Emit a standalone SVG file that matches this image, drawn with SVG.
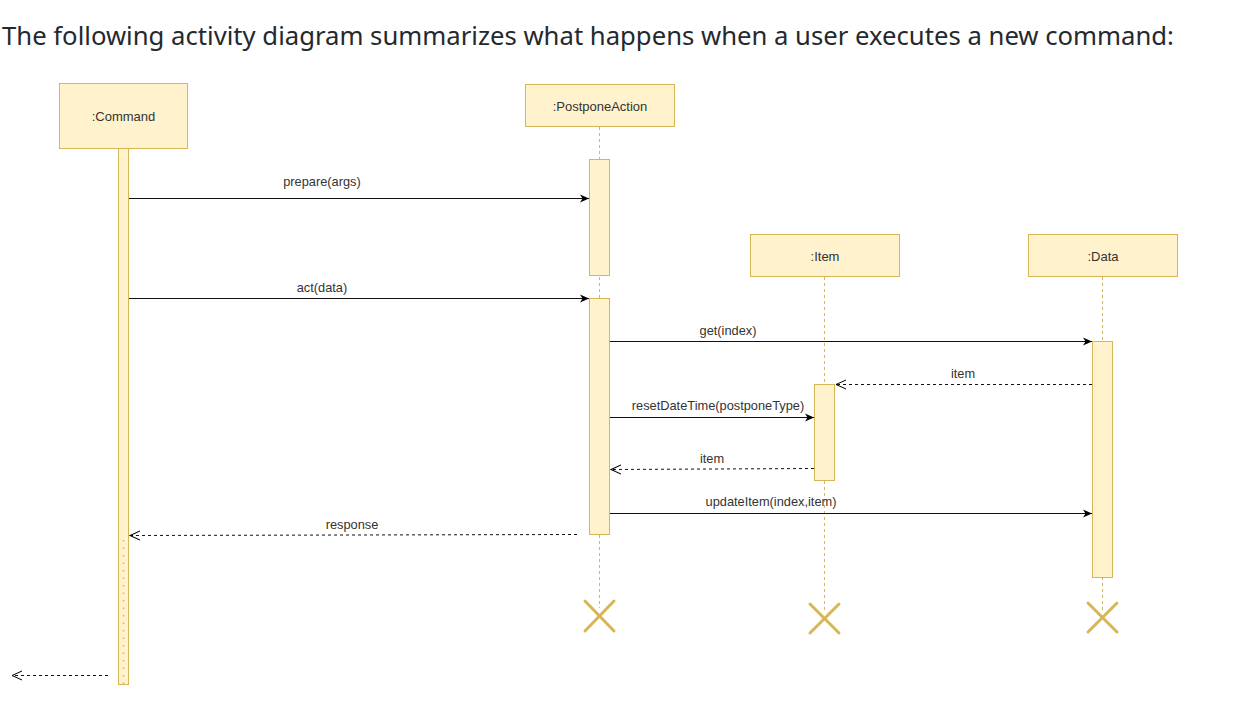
<svg xmlns="http://www.w3.org/2000/svg" width="1244" height="702" viewBox="0 0 1244 702">
<style>
.box{fill:#fff2cc;stroke:#d6b656;stroke-width:1}
.act{fill:#fff2cc;stroke:#d6b656;stroke-width:1}
.life{stroke:#d6b656;stroke-width:1;stroke-dasharray:3 3;fill:none}
.x{stroke:#d6b656;stroke-width:3;stroke-linecap:round}
.nt{font-family:"Liberation Sans",Arial,sans-serif;font-size:13px;fill:#333;text-anchor:middle}
.lb{font-family:"Liberation Sans",Arial,sans-serif;font-size:12.8px;fill:#333;text-anchor:middle}
.msg{stroke:#111;stroke-width:1;fill:none}
.ret{stroke:#111;stroke-width:1;fill:none;stroke-dasharray:3 3}
.title{font-family:"Noto Sans","Open Sans",sans-serif;font-size:26px;fill:#24292e}
</style>
<defs>
<marker id="solid" markerWidth="10" markerHeight="10" refX="9" refY="5" orient="auto" markerUnits="userSpaceOnUse">
<path d="M0,1 L9,5 L0,9 L2.5,5 Z" fill="#000"/>
</marker>
<marker id="open" markerWidth="12" markerHeight="12" refX="10" refY="6" orient="auto" markerUnits="userSpaceOnUse">
<path d="M0,1.5 L10,6 L0,10.5" fill="none" stroke="#000" stroke-width="1"/>
</marker>
</defs>
<rect width="1244" height="702" fill="#fff"/>
<text class="title" x="2" y="45" textLength="1172" lengthAdjust="spacingAndGlyphs">The following activity diagram summarizes what happens when a user executes a new command:</text>

<g id="command">
<rect class="box" x="59.5" y="83.5" width="128" height="65"/>
<text class="nt" x="123.5" y="120.5">:Command</text>
<rect class="act" x="118.5" y="148.5" width="10" height="536"/>
<line x1="123.5" y1="540" x2="123.5" y2="684" stroke="#d6b656" stroke-width="1.5" stroke-dasharray="1.5 6"/>
</g>

<g id="postponeaction">
<rect class="box" x="525.5" y="84.5" width="149" height="42"/>
<text class="nt" x="600" y="110.5">:PostponeAction</text>
<line class="life" x1="599.5" y1="127" x2="599.5" y2="608"/>
<rect class="act" x="589.5" y="159.5" width="20" height="116"/>
<rect class="act" x="589.5" y="298.5" width="20" height="236"/>
<line class="x" x1="585" y1="601" x2="614" y2="631"/>
<line class="x" x1="614" y1="601" x2="585" y2="631"/>
</g>

<g id="item">
<rect class="box" x="750.5" y="234.5" width="149" height="42"/>
<text class="nt" x="825" y="260.5">:Item</text>
<line class="life" x1="824.5" y1="277" x2="824.5" y2="612"/>
<rect class="act" x="814.5" y="384.5" width="20" height="96"/>
<line class="x" x1="810" y1="604" x2="839" y2="633"/>
<line class="x" x1="839" y1="604" x2="810" y2="633"/>
</g>

<g id="data">
<rect class="box" x="1028.5" y="234.5" width="149" height="42"/>
<text class="nt" x="1103" y="260.5">:Data</text>
<line class="life" x1="1102.5" y1="277" x2="1102.5" y2="612"/>
<rect class="act" x="1092.5" y="341.5" width="20" height="236"/>
<line class="x" x1="1088" y1="603" x2="1117" y2="632"/>
<line class="x" x1="1117" y1="603" x2="1088" y2="632"/>
</g>

<g id="connectors">
<line class="msg" x1="129" y1="198.5" x2="589" y2="198.5" marker-end="url(#solid)"/>
<text class="lb" x="322" y="186">prepare(args)</text>
<line class="msg" x1="129" y1="298.5" x2="589" y2="298.5" marker-end="url(#solid)"/>
<text class="lb" x="322" y="292">act(data)</text>
<line class="msg" x1="610" y1="341.5" x2="1092" y2="341.5" marker-end="url(#solid)"/>
<text class="lb" x="728" y="335">get(index)</text>
<line class="ret" x1="1092" y1="384.5" x2="836" y2="384.5" marker-end="url(#open)"/>
<text class="lb" x="963" y="378">item</text>
<line class="msg" x1="610" y1="417.5" x2="814" y2="417.5" marker-end="url(#solid)"/>
<text class="lb" x="718" y="410">resetDateTime(postponeType)</text>
<line class="ret" x1="814" y1="468.5" x2="611" y2="469.5" marker-end="url(#open)"/>
<text class="lb" x="712" y="463">item</text>
<line class="msg" x1="610" y1="513.5" x2="1092" y2="513.5" marker-end="url(#solid)"/>
<text class="lb" x="771" y="506">updateItem(index,item)</text>
<line class="ret" x1="577" y1="534.5" x2="130" y2="535.5" marker-end="url(#open)"/>
<text class="lb" x="352" y="529">response</text>
<line class="ret" x1="108" y1="675.5" x2="12" y2="675.5" marker-end="url(#open)"/>
</g>
</svg>
